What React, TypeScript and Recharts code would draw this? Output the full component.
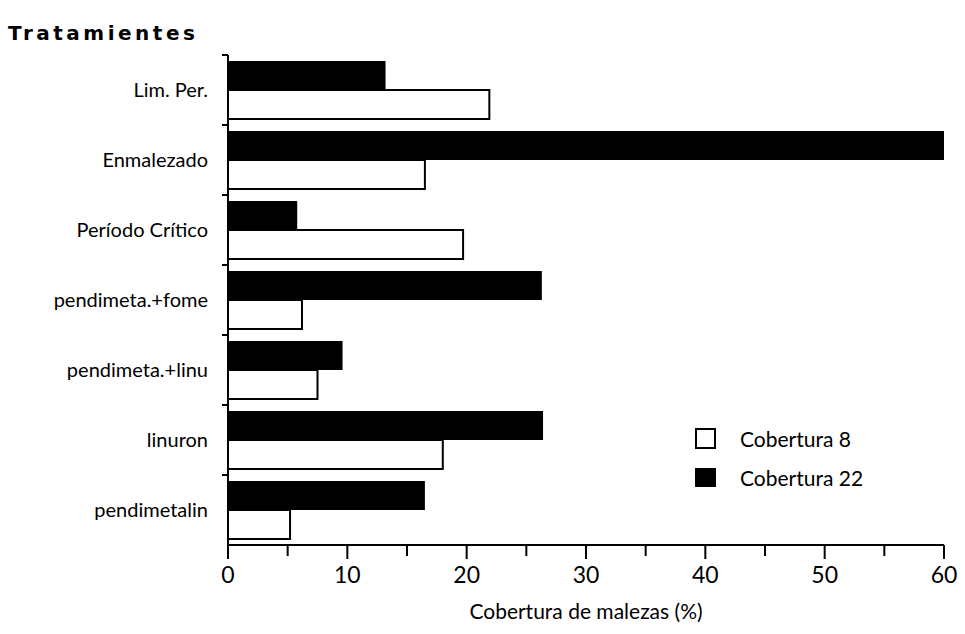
import { BarChart, Bar, XAxis, YAxis } from "recharts";

const categories = [
  "Lim. Per.",
  "Enmalezado",
  "Período Crítico",
  "pendimeta.+fome",
  "pendimeta.+linu",
  "linuron",
  "pendimetalin",
];
const cobertura22 = [13.2, 60, 5.8, 26.3, 9.6, 26.4, 16.5];
const cobertura8 = [21.9, 16.5, 19.7, 6.2, 7.5, 18.0, 5.2];
const xTicks = [0, 5, 10, 15, 20, 25, 30, 35, 40, 45, 50, 55, 60];

const FONT = "Lato, 'DejaVu Sans', sans-serif";

const data = categories.map((name, i) => ({
  name,
  c22: cobertura22[i],
  c8: cobertura8[i],
}));

const XTick = (props: any) => {
  const { x, y, payload } = props;
  const major = payload.value % 10 === 0;
  return (
    <g>
      <line x1={x} x2={x} y1={y - 8} y2={y + (major ? 6 : 3)} stroke="#000" strokeWidth={2} />
      {major && (
        <text x={x} y={y + 30} textAnchor="middle" fontFamily={FONT} fontSize={23} fill="#000">
          {payload.value}
        </text>
      )}
    </g>
  );
};

const YTick = (props: any) => {
  const { x, y, payload } = props;
  return (
    <g>
      <line x1={x + 2} x2={x + 8} y1={y - 35} y2={y - 35} stroke="#000" strokeWidth={2} />
      <text x={x - 12} y={y + 7} textAnchor="end" fontFamily={FONT} fontSize={20} fill="#000">
        {payload.value}
      </text>
    </g>
  );
};

export default function App() {
  return (
    <div style={{ position: "absolute", left: 0, top: 0, width: 965, height: 634, background: "#fff" }}>
      <div
        style={{
          position: "absolute",
          left: 8,
          top: 21,
          fontFamily: "'DejaVu Sans', sans-serif",
          fontWeight: 900,
          fontSize: 20,
          color: "#000",
          letterSpacing: 3.5,
        }}
      >
        Tratamientes
      </div>
      <BarChart
        width={965}
        height={634}
        data={data}
        layout="vertical"
        margin={{ top: 55, right: 21, bottom: 19, left: 0 }}
        barCategoryGap={6}
        barGap={0}
      >
        <XAxis
          type="number"
          domain={[0, 60]}
          ticks={xTicks}
          interval={0}
          tick={<XTick />}
          tickLine={false}
          axisLine={{ stroke: "#000", strokeWidth: 2 }}
          height={70}
          label={{
            value: "Cobertura de malezas (%)",
            position: "insideBottom",
            offset: -4,
            fontFamily: FONT,
            fontSize: 21,
            fill: "#000",
          }}
        />
        <YAxis
          type="category"
          dataKey="name"
          width={228}
          tick={<YTick />}
          tickLine={false}
          axisLine={{ stroke: "#000", strokeWidth: 2 }}
          interval={0}
        />
        <Bar dataKey="c22" name="Cobertura 22" fill="#000" isAnimationActive={false} />
        <Bar dataKey="c8" name="Cobertura 8" fill="#fff" stroke="#000" strokeWidth={2} isAnimationActive={false} />
      </BarChart>
      <div
        style={{
          position: "absolute",
          left: 695,
          top: 419,
          fontFamily: FONT,
          fontSize: 21,
          color: "#000",
          lineHeight: "39px",
        }}
      >
        <div style={{ display: "flex", alignItems: "center" }}>
          <span style={{ width: 17, height: 17, border: "2px solid #000", background: "#fff", marginRight: 24 }} />
          Cobertura 8
        </div>
        <div style={{ display: "flex", alignItems: "center" }}>
          <span style={{ width: 21, height: 19, background: "#000", marginRight: 24 }} />
          Cobertura 22
        </div>
      </div>
    </div>
  );
}
